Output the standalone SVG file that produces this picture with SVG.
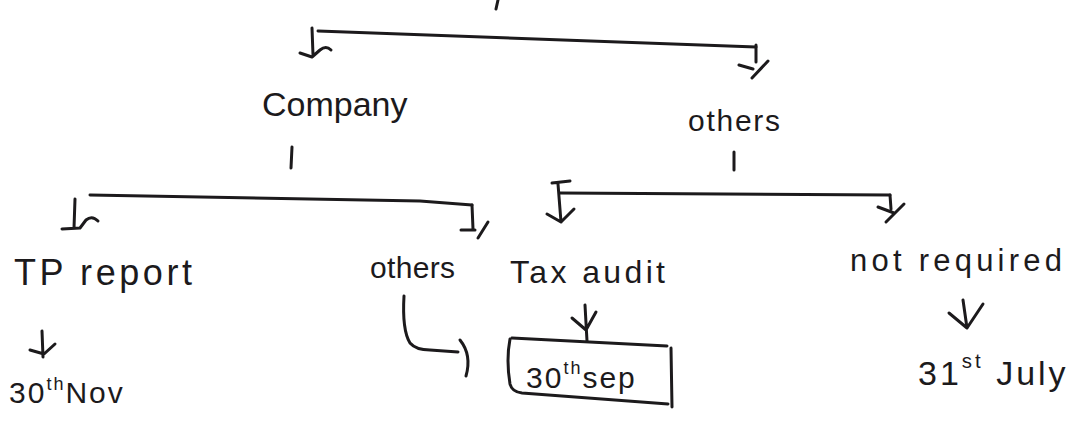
<svg xmlns="http://www.w3.org/2000/svg" width="1080" height="428" viewBox="0 0 1080 428">
  <style>
    .ink { fill: none; stroke: #1c1a1c; stroke-width: 3; stroke-linecap: round; stroke-linejoin: round; }
    .lbl { font-family: "Liberation Sans", "DejaVu Sans", sans-serif; fill: #1c1a1c; }
    .sup { font-size: 60%; }
  </style>
  <rect width="1080" height="428" fill="#ffffff"/>

  <!-- connectors -->
  <g id="connectors" class="ink">
    <!-- stub from the root above -->
    <path d="M498 0 L496 9"/>
    <!-- top split -->
    <path d="M318 31 L756 47"/>
    <path d="M312 28 L313 55 M300 53 L312 57 L320 50 Q326 45 331 50"/>
    <path d="M756 45 L756 62 M739 65 L753 69 M752 78 L768 61"/>
    <!-- Company down -->
    <path d="M292 147 L291 168"/>
    <!-- others (top) down -->
    <path d="M734 152 L734 170"/>
    <!-- split under Company -->
    <path d="M90 195 L420 201 L472 205"/>
    <path d="M75 199 L74 228 M62 229 L80 228 L86 220 Q92 215 98 221"/>
    <path d="M472 205 L473 229 M461 230 L475 230 M478 238 L488 222"/>
    <!-- split under top others -->
    <path d="M560 193 L890 195"/>
    <path d="M552 183 L570 181 M558 184 L561 222 M547 214 L561 222 L574 209"/>
    <path d="M890 195 L891 209 M878 207 L894 213 M886 222 L904 204"/>
    <!-- TP report to 30th Nov -->
    <path d="M42 331 L43 357 M30 350 L44 354 L55 344"/>
    <!-- others to 30th sep -->
    <path d="M404 296 Q402 330 410 343 Q416 350 430 350 L458 352"/>
    <path d="M460 340 Q472 355 466 376"/>
    <!-- Tax audit to 30th sep -->
    <path d="M585 305 L587 341 M572 318 L586 330 L596 312"/>
    <!-- not required to 31st July -->
    <path d="M963 300 L967 328 M949 313 L967 328 M983 304 L967 328"/>
  </g>

  <!-- nodes -->
  <g id="company">
    <text class="lbl" x="262" y="116" font-size="34">Company</text>
  </g>
  <g id="others-top">
    <text class="lbl" x="688" y="131" font-size="30" textLength="92" lengthAdjust="spacing">others</text>
  </g>
  <g id="tp-report">
    <text class="lbl" x="14" y="285" font-size="36" textLength="178" lengthAdjust="spacing">TP report</text>
  </g>
  <g id="others-company">
    <text class="lbl" x="370" y="278" font-size="30" textLength="85" lengthAdjust="spacing">others</text>
  </g>
  <g id="tax-audit">
    <text class="lbl" x="510" y="283" font-size="32" textLength="155" lengthAdjust="spacing">Tax audit</text>
  </g>
  <g id="not-required">
    <text class="lbl" x="850" y="271" font-size="31" textLength="212" lengthAdjust="spacing">not required</text>
  </g>
  <g id="nov-30">
    <text class="lbl" x="9" y="403" font-size="30" letter-spacing="2">30<tspan class="sup" dy="-13">th</tspan><tspan dy="13">Nov</tspan></text>
  </g>
  <g id="sep-30">
    <path class="ink" d="M512 338 L667 346 M510 339 Q506 360 510 384 Q512 392 522 393 L668 404 M671 348 L672 407"/>
    <text class="lbl" x="526" y="388" font-size="30" letter-spacing="2">30<tspan class="sup" dy="-14">th</tspan><tspan dy="14">sep</tspan></text>
  </g>
  <g id="july-31">
    <text class="lbl" x="918" y="385" font-size="34" letter-spacing="3">31<tspan class="sup" dy="-17">st</tspan><tspan dy="17"> July</tspan></text>
  </g>
</svg>
